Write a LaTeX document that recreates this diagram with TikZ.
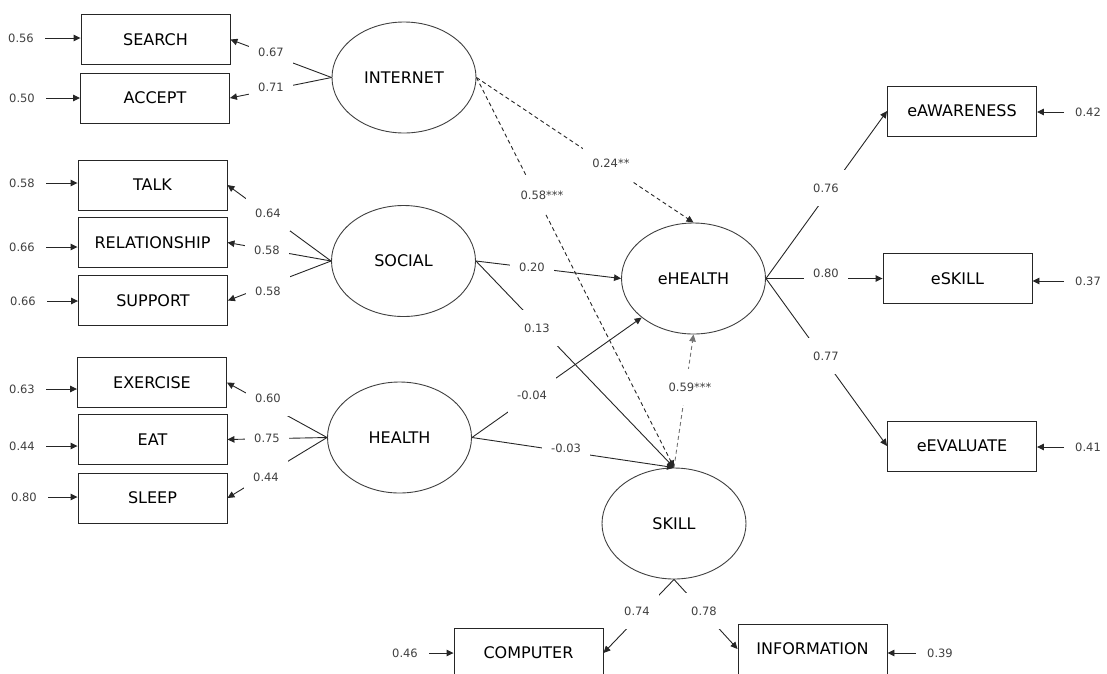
\documentclass[tikz,border=0pt]{standalone}
\usepackage{fontspec}
\setmainfont{DejaVu Sans}
\usetikzlibrary{shapes.geometric,arrows.meta}

\tikzset{
  obs/.style={draw=black!85, line width=0.9pt, minimum width=149pt, minimum height=50pt,
              inner sep=0pt, font=\fontsize{16}{19}\selectfont},
  lat/.style={ellipse, draw=black!75, line width=0.9pt, minimum width=144pt, minimum height=111pt,
              inner sep=0pt, font=\fontsize{16}{19}\selectfont},
  conn/.style={draw=black!85, line width=0.9pt, -{Triangle[length=7pt,width=6.5pt]}},
  dashconn/.style={conn, dash pattern=on 4pt off 3pt},
  greyconn/.style={dashconn, draw=black!55},
  wt/.style={fill=white, inner xsep=9pt, inner ysep=14pt, text height=8.5pt, text depth=0pt,
             text=black!75, font=\fontsize{11.5}{13}\selectfont},
  err/.style={inner xsep=11pt, inner ysep=2pt, text=black!75, font=\fontsize{11.5}{13}\selectfont},
}

\begin{document}
\begin{tikzpicture}[x=1pt,y=-1pt]
\useasboundingbox (0,0) rectangle (1107,673);
\clip (0,0) rectangle (1107,673);

% observed indicators
\node[obs] (search)   at (155.5,39.5) {SEARCH};
\node[obs] (accept)   at (155,98)     {ACCEPT};
\node[obs] (talk)     at (152.5,185)  {TALK};
\node[obs] (relation) at (152.5,242.5){RELATIONSHIP};
\node[obs] (support)  at (153,300.5)  {SUPPORT};
\node[obs] (exercise) at (152,382.5)  {EXERCISE};
\node[obs] (eat)      at (152.5,439.5){EAT};
\node[obs] (sleep)    at (152.5,498)  {SLEEP};
\node[obs] (eaware)   at (962,111)    {eAWARENESS};
\node[obs] (eskill)   at (957.5,278.5){eSKILL};
\node[obs] (eeval)    at (962,446)    {eEVALUATE};
\node[obs] (computer) at (528.5,653)  {COMPUTER};
\node[obs] (inform)   at (812.5,649)  {INFORMATION};

% latent variables
\node[lat] (internet) at (404,77.5)   {INTERNET};
\node[lat] (social)   at (403.5,261)  {SOCIAL};
\node[lat] (health)   at (399.5,437.5){HEALTH};
\node[lat] (ehealth)  at (693.5,278.5){eHEALTH};
\node[lat] (skill)    at (674,523.5)  {SKILL};

% measurement paths
\draw[conn] (internet.west) -- (search.east);
\draw[conn] (internet.west) -- (accept.east);
\draw[conn] (social.west) -- (talk.east);
\draw[conn] (social.west) -- (relation.east);
\draw[conn] (social.west) -- (support.east);
\draw[conn] (health.west) -- (exercise.east);
\draw[conn] (health.west) -- (eat.east);
\draw[conn] (health.west) -- (sleep.east);
\draw[conn] (ehealth.east) -- (eaware.west);
\draw[conn] (ehealth.east) -- (eskill.west);
\draw[conn] (ehealth.east) -- (eeval.west);
\draw[conn] (skill.south) -- (computer.east);
\draw[conn] (skill.south) -- (inform.west);

% structural paths
\draw[dashconn] (internet.east) -- (ehealth.north);
\draw[dashconn] (internet.east) -- (skill.north);
\draw[conn] (social.east) -- (ehealth.west);
\draw[conn] (social.east) -- (skill.north);
\draw[conn] (health.east) -- (ehealth.217.5);
\draw[conn] (health.east) -- (skill.north);
\draw[greyconn] (skill.north) -- (ehealth.south);

% path coefficients
\node[wt] (l67) at (271,52)  {0.67};
\node[wt] (l71) at (271,87)  {0.71};
\node[wt] (l64) at (268,213) {0.64};
\node[wt] (l58a) at (267,250) {0.58};
\node[wt] (l58b) at (268,291) {0.58};
\node[wt] (l60) at (268,398) {0.60};
\node[wt] (l75) at (267,438) {0.75};
\node[wt] (l44) at (266,477) {0.44};
\node[wt] (l76) at (826,188) {0.76};
\node[wt] (l80) at (826,273) {0.80};
\node[wt] (l77) at (826,356) {0.77};
\node[wt] (l74) at (637,611) {0.74};
\node[wt] (l78) at (704,611) {0.78};
\node[wt] (l24) at (611,163) {0.24**};
\node[wt] (l58s) at (542,195) {0.58***};
\node[wt] (l20) at (532,267) {0.20};
\node[wt] (l13) at (537,328) {0.13};
\node[wt] (l04) at (532,395) {-0.04};
\node[wt] (l03) at (566,448) {-0.03};
\node[wt] (l59) at (690,387) {0.59***};

% error terms
\node[err] (e56) at (21,38)  {0.56};
\node[err] (e50) at (22,98)  {0.50};
\node[err] (e58) at (22,183) {0.58};
\node[err] (e66a) at (22,247) {0.66};
\node[err] (e66b) at (23,301) {0.66};
\node[err] (e63) at (22,389) {0.63};
\node[err] (e44) at (22,446) {0.44};
\node[err] (e80) at (24,497) {0.80};
\node[err] (e42) at (1088,112) {0.42};
\node[err] (e37) at (1088,281) {0.37};
\node[err] (e41) at (1088,447) {0.41};
\node[err] (e46) at (405,653) {0.46};
\node[err] (e39) at (940,653) {0.39};

\draw[conn] (e56.east) -- (e56.east -| search.west);
\draw[conn] (e50.east) -- (e50.east -| accept.west);
\draw[conn] (e58.east) -- (e58.east -| talk.west);
\draw[conn] (e66a.east) -- (e66a.east -| relation.west);
\draw[conn] (e66b.east) -- (e66b.east -| support.west);
\draw[conn] (e63.east) -- (e63.east -| exercise.west);
\draw[conn] (e44.east) -- (e44.east -| eat.west);
\draw[conn] (e80.east) -- (e80.east -| sleep.west);
\draw[conn] (e42.west) -- (e42.west -| eaware.east);
\draw[conn] (e37.west) -- (e37.west -| eskill.east);
\draw[conn] (e41.west) -- (e41.west -| eeval.east);
\draw[conn] (e46.east) -- (e46.east -| computer.west);
\draw[conn] (e39.west) -- (e39.west -| inform.east);
\end{tikzpicture}
\end{document}
